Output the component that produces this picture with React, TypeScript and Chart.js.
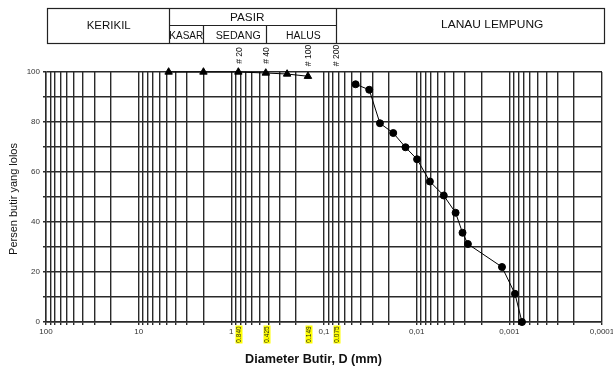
import React, { useEffect, useRef } from 'react';
import { Chart, registerables } from 'chart.js';

Chart.register(...registerables);

const FONT = "'Liberation Sans', Arial, Helvetica, sans-serif";

// Sieve analysis (triangle markers)
const sieveDiameter = [4.75, 2.0, 0.84, 0.425, 0.25, 0.149];
const sievePassing = [100, 100, 100, 99.6, 99.2, 98.3];

// Hydrometer analysis (circle markers)
const hydroDiameter = [0.0456, 0.0325, 0.0249, 0.0179, 0.0132, 0.0099, 0.0072, 0.0051, 0.0038, 0.0032, 0.0028, 0.0012, 0.00087, 0.00073];
const hydroPassing = [95.1, 92.9, 79.5, 75.6, 69.9, 65.1, 56.2, 50.6, 43.7, 35.7, 31.2, 22.0, 11.3, 0];

// Axis tick labels
const xDecades = [100, 10, 1, 0.1, 0.01, 0.001, 0.0001];
const xDecadeLabels = ['100', '10', '1', '0,1', '0,01', '0,001', '0,0001'];
const yLabelledTicks = [0, 20, 40, 60, 80, 100];

// Sieve numbers and openings marked on the chart
const sieveNumbers = ['# 20', '# 40', '# 100', '# 200'];
const sieveOpenings = [0.84, 0.425, 0.149, 0.075];
const sieveOpeningLabels = ['0.840', '0.425', '0.149', '0.075'];

// Soil class boundaries (mm): KERIKIL|KASAR, KASAR|SEDANG, SEDANG|HALUS, HALUS|LANAU
const classBounds = [4.75, 2.0, 0.425, 0.075];

const gridValues: number[] = [];
for (let e = -4; e <= 1; e++) {
  for (let s = 1; s <= 9; s++) gridValues.push(parseFloat((s * Math.pow(10, e)).toPrecision(6)));
}
gridValues.push(100);

function drawFit(ctx: CanvasRenderingContext2D, text: string, cx: number, baseline: number, size: number, width: number, bold = false, color = '#111') {
  ctx.save();
  ctx.font = `${bold ? 'bold ' : ''}${size}px ${FONT}`;
  const w = ctx.measureText(text).width;
  const sx = width ? width / w : 1;
  ctx.translate(cx, baseline);
  ctx.scale(sx, 1);
  ctx.textAlign = 'center';
  ctx.textBaseline = 'alphabetic';
  ctx.fillStyle = color;
  ctx.fillText(text, 0, 0);
  ctx.restore();
}

const overlay = {
  id: 'overlay',
  afterDraw(chart: any) {
    const ctx: CanvasRenderingContext2D = chart.ctx;
    const xs = chart.scales.x;
    const px = (v: number) => Math.round(xs.getPixelForValue(v)) + 0.5;
    ctx.save();
    // header table
    ctx.strokeStyle = '#222';
    ctx.lineWidth = 1.2;
    const tL = 47.5, tR = 604.5, tT = 8.5, tB = 43.5, tM = 25.5;
    ctx.strokeRect(tL, tT, tR - tL, tB - tT);
    const b = classBounds.map(px);
    ctx.beginPath();
    ctx.moveTo(b[0], tT); ctx.lineTo(b[0], tB);
    ctx.moveTo(b[3], tT); ctx.lineTo(b[3], tB);
    ctx.moveTo(b[1], tM); ctx.lineTo(b[1], tB);
    ctx.moveTo(b[2], tM); ctx.lineTo(b[2], tB);
    ctx.moveTo(b[0], tM); ctx.lineTo(b[3], tM);
    ctx.stroke();

    drawFit(ctx, 'KERIKIL', 108.7, 29.3, 10, 44);
    drawFit(ctx, 'PASIR', 247.2, 21, 10, 34.3);
    drawFit(ctx, 'KASAR', 186.3, 39, 10, 34);
    drawFit(ctx, 'SEDANG', 238.2, 38.7, 10, 45);
    drawFit(ctx, 'HALUS', 303.3, 38.7, 10, 34.7);
    drawFit(ctx, 'LANAU LEMPUNG', 492.2, 28.3, 10, 102.3);

    // sieve numbers above the plot
    sieveNumbers.forEach((t, i) => {
      const x = xs.getPixelForValue(sieveOpenings[i]) + 1;
      ctx.save();
      ctx.translate(x, 55.5);
      ctx.rotate(-Math.PI / 2);
      ctx.font = `8.5px ${FONT}`;
      ctx.fillStyle = '#111';
      ctx.textAlign = 'center';
      ctx.textBaseline = 'middle';
      ctx.fillText(t, 0, 0);
      ctx.restore();
    });

    // sieve openings below the axis (yellow)
    sieveOpeningLabels.forEach((t, i) => {
      const x = xs.getPixelForValue(sieveOpenings[i]) + 1;
      ctx.fillStyle = '#ffff00';
      ctx.fillRect(Math.round(x) - 3.5, 325.5, 7, 18);
      ctx.save();
      ctx.translate(Math.round(x), 334.5);
      ctx.rotate(-Math.PI / 2);
      ctx.font = `6.5px ${FONT}`;
      ctx.fillStyle = '#222';
      ctx.textAlign = 'center';
      ctx.textBaseline = 'middle';
      ctx.fillText(t, 0, 0.5);
      ctx.restore();
    });

    // axis titles
    ctx.save();
    ctx.translate(17.3, 199);
    ctx.rotate(-Math.PI / 2);
    ctx.font = `11px ${FONT}`;
    ctx.fillStyle = '#111';
    ctx.textAlign = 'center';
    ctx.textBaseline = 'alphabetic';
    ctx.fillText('Persen butir yang lolos', 0, 0);
    ctx.restore();

    drawFit(ctx, 'Diameter Butir, D (mm)', 313.5, 363, 12, 137, true);
    ctx.restore();
  },
};

export default function App() {
  const ref = useRef<HTMLCanvasElement | null>(null);
  useEffect(() => {
    const canvas = ref.current;
    if (!canvas) return;
    const chart = new Chart(canvas, {
      type: 'scatter',
      data: {
        datasets: [
          {
            data: sieveDiameter.map((d, i) => ({ x: d, y: sievePassing[i] })),
            showLine: true,
            clip: false,
            borderColor: '#000',
            backgroundColor: '#000',
            borderWidth: 1,
            pointStyle: 'triangle',
            pointRadius: 4.3,
            pointBorderWidth: 1,
          },
          {
            data: hydroDiameter.map((d, i) => ({ x: d, y: hydroPassing[i] })),
            showLine: true,
            clip: false,
            borderColor: '#000',
            backgroundColor: '#000',
            borderWidth: 1,
            pointStyle: 'circle',
            pointRadius: 3.5,
            pointBorderWidth: 1,
          },
        ],
      } as any,
      options: {
        responsive: false,
        animation: false,
        devicePixelRatio: 1,
        layout: { padding: { top: 72, right: 11, left: 0, bottom: 0 } },
        plugins: { legend: { display: false }, tooltip: { enabled: false } },
        scales: {
          x: {
            type: 'logarithmic',
            reverse: true,
            min: 0.0001,
            max: 100,
            afterBuildTicks: (s: any) => {
              s.ticks = gridValues.map((v) => ({ value: v }));
            },
            afterFit: (s: any) => {
              s.height = 45;
            },
            ticks: {
              autoSkip: false,
              maxRotation: 0,
              minRotation: 0,
              padding: 2,
              color: '#333',
              font: { family: FONT, size: 8 },
              callback: (v: any) => {
                const val = Number(v);
                const idx = xDecades.findIndex((d) => Math.abs(Math.log10(d) - Math.log10(val)) < 1e-6);
                return idx >= 0 ? xDecadeLabels[idx] : '';
              },
            },
            grid: { color: '#2a2a2a', lineWidth: 1.4, tickLength: 3 },
            border: { color: '#2a2a2a', width: 1.4 },
          },
          y: {
            min: 0,
            max: 100,
            afterFit: (s: any) => {
              s.width = 46;
            },
            ticks: {
              stepSize: 10,
              padding: 3,
              color: '#333',
              font: { family: FONT, size: 8 },
              callback: (v: any) => (yLabelledTicks.includes(Number(v)) ? String(v) : ''),
            },
            grid: { color: '#2a2a2a', lineWidth: 1.4, tickLength: 3 },
            border: { color: '#2a2a2a', width: 1.4 },
          },
        },
      } as any,
      plugins: [overlay],
    });
    return () => chart.destroy();
  }, []);
  return (
    <div style={{ position: 'fixed', left: 0, top: 0, width: 613, height: 367, background: '#fff' }}>
      <canvas ref={ref} width={613} height={367} style={{ display: 'block' }} />
    </div>
  );
}
